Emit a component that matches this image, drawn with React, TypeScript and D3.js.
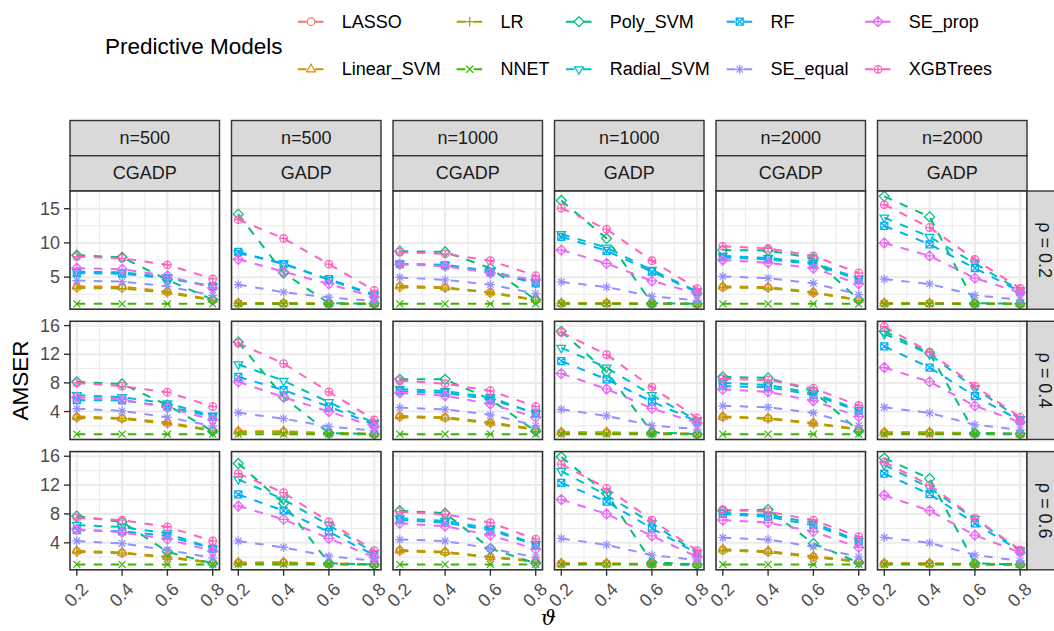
import React from "react";
import * as d3 from "d3";

const models = ["LASSO", "Linear_SVM", "LR", "NNET", "Poly_SVM", "Radial_SVM", "RF", "SE_equal", "SE_prop", "XGBTrees"];
const modelColors = ["#F8766D", "#D89000", "#A3A500", "#39B600", "#00BF7D", "#00BFC4", "#00B0F6", "#9590FF", "#E76BF3", "#FF62BC"];
const thetas = [0.2, 0.4, 0.6, 0.8];
const xTicks = [0.2, 0.4, 0.6, 0.8];
const xMinor = [0.3, 0.5, 0.7];
const sampleSizes = ["n=500", "n=500", "n=1000", "n=1000", "n=2000", "n=2000"];
const designs = ["CGADP", "GADP", "CGADP", "GADP", "CGADP", "GADP"];
const rhoLabels = ["ρ = 0.2", "ρ = 0.4", "ρ = 0.6"];
const yTicksByRow = [[5, 10, 15], [4, 8, 12, 16], [4, 8, 12, 16]];
const yMinorByRow = [[2.5, 7.5, 12.5, 17.5], [2, 6, 10, 14], [2, 6, 10, 14]];

// rho = 0.2
const r1_500_C = [[3.5, 3.45, 2.8, 1.65], [3.65, 3.6, 2.9, 1.7], [3.4, 3.35, 2.7, 1.6], [1.1, 1.1, 1.1, 1.1], [8.2, 7.9, 4.6, 1.7], [5.8, 5.7, 5.0, 3.6], [5.6, 5.5, 4.85, 3.65], [4.5, 4.35, 3.65, 2.35], [6.3, 6.15, 5.2, 3.4], [8.0, 7.75, 6.8, 4.75]];
const r1_500_G = [[1.15, 1.15, 1.1, 1.1], [1.2, 1.2, 1.15, 1.1], [1.15, 1.15, 1.1, 1.1], [1.1, 1.1, 1.1, 1.1], [14.2, 5.6, 1.2, 1.1], [8.5, 7.0, 4.6, 2.35], [8.7, 6.9, 4.7, 2.45], [3.9, 2.8, 2.05, 1.5], [7.6, 5.8, 4.0, 2.1], [13.4, 10.65, 6.9, 3.05]];
const r1_1000_C = [[3.6, 3.45, 2.75, 1.65], [3.75, 3.5, 2.8, 1.7], [3.5, 3.4, 2.7, 1.6], [1.1, 1.1, 1.1, 1.1], [8.8, 8.7, 6.3, 1.7], [6.95, 6.8, 5.9, 4.2], [6.9, 6.7, 5.7, 4.1], [4.95, 4.6, 3.9, 2.6], [6.9, 6.6, 5.6, 4.6], [8.65, 8.4, 7.4, 5.2]];
const r1_1000_G = [[1.15, 1.15, 1.1, 1.1], [1.2, 1.2, 1.15, 1.1], [1.15, 1.15, 1.1, 1.1], [1.1, 1.1, 1.1, 1.1], [16.2, 10.65, 1.2, 1.1], [11.3, 9.3, 6.05, 2.9], [10.9, 8.85, 5.8, 2.8], [4.3, 3.55, 2.2, 1.6], [8.95, 7.0, 4.45, 2.6], [15.1, 12.0, 7.4, 3.3]];
const r1_2000_C = [[3.55, 3.45, 2.75, 1.65], [3.65, 3.55, 2.8, 1.7], [3.5, 3.4, 2.7, 1.6], [1.1, 1.1, 1.1, 1.1], [8.95, 8.9, 7.75, 1.7], [8.1, 7.8, 7.1, 4.8], [7.9, 7.6, 6.9, 4.6], [5.1, 4.85, 4.1, 2.45], [7.5, 7.1, 6.3, 4.0], [9.5, 9.2, 8.1, 5.6]];
const r1_2000_G = [[1.15, 1.15, 1.1, 1.1], [1.2, 1.2, 1.15, 1.1], [1.15, 1.15, 1.1, 1.1], [1.1, 1.1, 1.1, 1.1], [16.8, 13.8, 1.2, 1.1], [13.7, 10.9, 7.0, 3.05], [12.5, 9.8, 6.3, 2.9], [4.7, 4.0, 2.35, 1.7], [10.0, 8.1, 4.85, 2.75], [15.6, 12.25, 7.6, 3.35]];

// rho = 0.4
const r2_500_C = [[3.2, 3.05, 2.4, 1.35], [3.3, 3.1, 2.5, 1.4], [3.1, 3.0, 2.3, 1.3], [0.85, 0.85, 0.85, 0.85], [8.15, 7.85, 4.9, 1.25], [6.3, 6.0, 5.15, 3.4], [5.6, 5.55, 4.7, 3.3], [4.4, 4.1, 3.2, 2.0], [6.0, 5.7, 4.55, 2.85], [8.0, 7.55, 6.7, 4.7]];
const r2_500_G = [[1.15, 1.15, 0.95, 0.9], [1.25, 1.25, 1.0, 0.9], [1.1, 1.1, 0.95, 0.9], [0.85, 0.85, 0.85, 0.85], [13.7, 6.0, 1.0, 0.85], [10.6, 8.3, 5.3, 2.4], [8.85, 7.0, 4.7, 2.15], [3.85, 3.0, 1.9, 1.35], [8.15, 6.0, 4.0, 1.9], [13.55, 10.7, 6.75, 2.85]];
const r2_1000_C = [[3.3, 3.15, 2.45, 1.5], [3.4, 3.2, 2.5, 1.55], [3.2, 3.1, 2.35, 1.45], [0.85, 0.85, 0.85, 0.85], [8.5, 8.5, 5.7, 1.25], [7.15, 6.85, 6.0, 3.7], [6.85, 6.6, 5.7, 3.8], [4.55, 4.3, 3.55, 2.05], [6.6, 6.2, 5.05, 3.2], [8.3, 7.9, 6.9, 4.7]];
const r2_1000_G = [[1.05, 1.05, 0.95, 0.9], [1.1, 1.1, 1.0, 0.9], [1.0, 1.0, 0.95, 0.9], [0.85, 0.85, 0.85, 0.85], [15.2, 9.55, 1.1, 0.85], [12.9, 10.15, 6.3, 2.75], [11.05, 8.5, 5.4, 2.6], [4.3, 3.4, 2.05, 1.55], [9.3, 7.15, 4.45, 2.4], [15.05, 11.95, 7.4, 3.1]];
const r2_2000_C = [[3.25, 3.05, 2.35, 1.5], [3.3, 3.1, 2.4, 1.55], [3.2, 3.0, 2.3, 1.45], [0.85, 0.85, 0.85, 0.85], [8.85, 8.7, 6.85, 1.25], [8.0, 7.7, 6.55, 4.25], [7.55, 7.4, 6.3, 4.1], [4.8, 4.6, 3.8, 2.05], [7.1, 6.75, 5.5, 3.3], [8.6, 8.4, 7.25, 4.85]];
const r2_2000_G = [[1.05, 1.05, 0.95, 0.9], [1.1, 1.1, 1.0, 0.9], [1.0, 1.0, 0.95, 0.9], [0.85, 0.85, 0.85, 0.85], [15.2, 12.15, 1.0, 0.9], [14.85, 12.0, 7.25, 2.95], [13.1, 10.15, 6.15, 2.75], [4.6, 3.8, 2.15, 1.45], [10.15, 8.15, 4.8, 2.5], [15.85, 12.3, 7.55, 3.2]];

// rho = 0.6
const r3_500_C = [[2.8, 2.6, 2.0, 1.25], [2.9, 2.65, 2.05, 1.3], [2.7, 2.55, 1.95, 1.2], [1.0, 1.0, 1.0, 1.0], [7.7, 6.9, 2.75, 1.15], [6.45, 6.2, 5.3, 3.2], [5.75, 5.6, 4.95, 3.2], [4.25, 3.9, 3.0, 1.9], [5.85, 5.45, 4.5, 2.85], [7.45, 7.15, 6.2, 4.25]];
const r3_500_G = [[1.2, 1.25, 1.1, 1.05], [1.25, 1.3, 1.1, 1.05], [1.15, 1.2, 1.05, 1.0], [1.0, 1.0, 1.0, 1.0], [15.0, 9.45, 1.15, 1.0], [12.8, 10.0, 6.45, 2.6], [10.7, 8.45, 5.5, 2.3], [4.25, 3.35, 2.15, 1.5], [9.1, 7.25, 4.6, 2.0], [13.6, 10.95, 6.9, 2.9]];
const r3_1000_C = [[2.9, 2.7, 2.0, 1.45], [3.0, 2.75, 2.05, 1.5], [2.85, 2.65, 1.95, 1.4], [1.0, 1.0, 1.0, 1.0], [8.45, 8.1, 3.2, 1.15], [7.4, 7.05, 6.0, 3.8], [7.15, 6.8, 5.75, 3.7], [4.45, 4.25, 3.2, 2.0], [6.7, 6.3, 5.05, 3.1], [8.3, 7.95, 6.8, 4.5]];
const r3_1000_G = [[1.1, 1.1, 1.05, 1.0], [1.15, 1.15, 1.05, 1.0], [1.1, 1.1, 1.0, 1.0], [1.0, 1.0, 1.0, 1.0], [15.9, 10.85, 1.3, 1.0], [13.95, 10.6, 6.7, 2.6], [12.3, 9.7, 6.0, 2.5], [4.6, 3.7, 2.3, 1.6], [10.0, 8.0, 4.95, 2.05], [14.9, 11.55, 7.15, 2.9]];
const r3_2000_C = [[3.0, 2.75, 2.05, 1.4], [3.1, 2.85, 2.15, 1.45], [2.95, 2.7, 2.0, 1.35], [1.0, 1.0, 1.0, 1.0], [8.45, 8.6, 3.9, 1.25], [8.15, 7.85, 6.8, 4.25], [8.0, 7.6, 6.45, 4.15], [4.7, 4.45, 3.45, 2.05], [7.15, 6.8, 5.55, 3.35], [8.6, 8.3, 7.15, 4.85]];
const r3_2000_G = [[1.1, 1.1, 1.05, 1.0], [1.15, 1.15, 1.05, 1.0], [1.1, 1.1, 1.0, 1.0], [1.0, 1.0, 1.0, 1.0], [15.75, 12.9, 1.15, 1.0], [14.8, 11.6, 7.3, 2.9], [13.6, 10.75, 6.7, 2.85], [4.75, 4.0, 2.3, 1.5], [10.6, 8.45, 5.05, 2.65], [15.2, 12.0, 7.4, 3.0]];

const panelData = [
  [r1_500_C, r1_500_G, r1_1000_C, r1_1000_G, r1_2000_C, r1_2000_G],
  [r2_500_C, r2_500_G, r2_1000_C, r2_1000_G, r2_2000_C, r2_2000_G],
  [r3_500_C, r3_500_G, r3_1000_C, r3_1000_G, r3_2000_C, r3_2000_G],
];

const W = 1054;
const H = 631;
const FONT = "'Liberation Sans', Arial, Helvetica, sans-serif";
const panelLeft = 70;
const colStep = 161.5;
const panelW = 149.5;
const rowTop0 = 191;
const rowStep = 130.3;
const panelH = 118.2;
const stripTop = 120.5;
const stripH = 35.25;
const rightStripW = 35;
const GRID = "#EBEBEB";
const BORDER = "#333333";
const STRIP_FILL = "#D9D9D9";
const DASH = "8.5 8.5";

function markerParts(shape: number, x: number, y: number) {
  const parts: { d?: string; r?: number }[] = [];
  const plus = (r: number) => `M${x - r},${y}H${x + r}M${x},${y - r}V${y + r}`;
  const cross = (r: number) => `M${x - r},${y - r}L${x + r},${y + r}M${x - r},${y + r}L${x + r},${y - r}`;
  const diamond = (r: number) => `M${x},${y - r}L${x + r},${y}L${x},${y + r}L${x - r},${y}Z`;
  switch (shape) {
    case 0:
      parts.push({ r: 3.8 });
      break;
    case 1:
      parts.push({ d: `M${x},${y - 5}L${x + 4.33},${y + 2.5}L${x - 4.33},${y + 2.5}Z` });
      break;
    case 2:
      parts.push({ d: plus(4.8) });
      break;
    case 3:
      parts.push({ d: cross(3.5) });
      break;
    case 4:
      parts.push({ d: diamond(5) });
      break;
    case 5:
      parts.push({ d: `M${x},${y + 5}L${x + 4.33},${y - 2.5}L${x - 4.33},${y - 2.5}Z` });
      break;
    case 6:
      parts.push({ d: `M${x - 3.5},${y - 3.5}H${x + 3.5}V${y + 3.5}H${x - 3.5}Z` + cross(3.5) });
      break;
    case 7:
      parts.push({ d: plus(4.5) + cross(3.2) });
      break;
    case 8:
      parts.push({ d: diamond(5) + plus(5) });
      break;
    default:
      parts.push({ r: 3.8 });
      parts.push({ d: plus(3.8) });
  }
  return parts;
}

function Marker({ shape, x, y, color }: { shape: number; x: number; y: number; color: string }) {
  const parts = markerParts(shape, x, y);
  return (
    <g stroke={color} strokeWidth={1.25} fill="none">
      {parts.map((p, i) =>
        p.r !== undefined ? <circle key={i} cx={x} cy={y} r={p.r} /> : <path key={i} d={p.d} />
      )}
    </g>
  );
}

export default function App() {
  const rowScales = panelData.map((row, ri) => {
    const all = row.flat(2) as number[];
    const mn = d3.min(all) as number;
    const mx = d3.max(all) as number;
    const pad = (mx - mn) * 0.05;
    const top = rowTop0 + ri * rowStep;
    return d3.scaleLinear().domain([mn - pad, mx + pad]).range([top + panelH, top]);
  });

  const legendCols = [298, 456.7, 566, 726.7, 865];
  const legendRows = [21.7, 69.3];

  return (
    <svg
      width={W}
      height={H}
      viewBox={`0 0 ${W} ${H}`}
      style={{ display: "block", position: "absolute", left: 0, top: 0, background: "#fff" }}
      fontFamily={FONT}
    >
      <rect x={0} y={0} width={W} height={H} fill="#fff" />
      {/* legend */}
      <text x={105} y={46} fontSize={22.5} dominantBaseline="central" fill="#000">Predictive Models</text>
      {models.map((m, i) => {
        const cx = legendCols[Math.floor(i / 2)];
        const cy = legendRows[i % 2];
        return (
          <g key={m}>
            <line x1={cx} x2={cx + 26} y1={cy} y2={cy} stroke={modelColors[i]} strokeWidth={2} strokeDasharray={DASH} />
            <Marker shape={i} x={cx + 13} y={cy} color={modelColors[i]} />
            <text x={cx + 43.7} y={cy} fontSize={18} dominantBaseline="central" fill="#000">{m}</text>
          </g>
        );
      })}

      {/* top strips */}
      {sampleSizes.map((s, ci) => {
        const x0 = panelLeft + ci * colStep;
        return (
          <g key={"strip" + ci}>
            <rect x={x0} y={stripTop} width={panelW} height={stripH} fill={STRIP_FILL} stroke={BORDER} strokeWidth={1.4} />
            <text x={x0 + panelW / 2} y={stripTop + stripH / 2} fontSize={18} textAnchor="middle" dominantBaseline="central" fill="#1A1A1A">{s}</text>
            <rect x={x0} y={stripTop + stripH} width={panelW} height={stripH} fill={STRIP_FILL} stroke={BORDER} strokeWidth={1.4} />
            <text x={x0 + panelW / 2} y={stripTop + stripH * 1.5} fontSize={18} textAnchor="middle" dominantBaseline="central" fill="#1A1A1A">{designs[ci]}</text>
          </g>
        );
      })}

      {/* panels */}
      {panelData.map((row, ri) => {
        const y = rowScales[ri];
        const top = rowTop0 + ri * rowStep;
        const [d0, d1] = y.domain();
        const minor = yMinorByRow[ri].filter((v) => v >= d0 && v <= d1);
        const major = yTicksByRow[ri].filter((v) => v >= d0 && v <= d1);
        return (
          <g key={"row" + ri}>
            {row.map((panel, ci) => {
              const x0 = panelLeft + ci * colStep;
              const x = d3.scaleLinear().domain([0.17, 0.83]).range([x0, x0 + panelW]);
              const line = d3
                .line<number>()
                .x((_, i) => x(thetas[i]))
                .y((v) => y(v));
              return (
                <g key={"p" + ci}>
                  <rect x={x0} y={top} width={panelW} height={panelH} fill="#fff" />
                  {minor.map((v) => (
                    <line key={"ym" + v} x1={x0} x2={x0 + panelW} y1={y(v)} y2={y(v)} stroke={GRID} strokeWidth={1} />
                  ))}
                  {xMinor.map((v) => (
                    <line key={"xm" + v} x1={x(v)} x2={x(v)} y1={top} y2={top + panelH} stroke={GRID} strokeWidth={1} />
                  ))}
                  {major.map((v) => (
                    <line key={"yM" + v} x1={x0} x2={x0 + panelW} y1={y(v)} y2={y(v)} stroke={GRID} strokeWidth={2} />
                  ))}
                  {xTicks.map((v) => (
                    <line key={"xM" + v} x1={x(v)} x2={x(v)} y1={top} y2={top + panelH} stroke={GRID} strokeWidth={2} />
                  ))}
                  {panel.map((vals, mi) => (
                    <path key={"l" + mi} d={line(vals) || ""} fill="none" stroke={modelColors[mi]} strokeWidth={2} strokeDasharray={DASH} />
                  ))}
                  {panel.map((vals, mi) =>
                    vals.map((v, ti) => (
                      <Marker key={"m" + mi + "-" + ti} shape={mi} x={x(thetas[ti])} y={y(v)} color={modelColors[mi]} />
                    ))
                  )}
                  <rect x={x0} y={top} width={panelW} height={panelH} fill="none" stroke={BORDER} strokeWidth={1.6} />
                  {ri === 2 &&
                    xTicks.map((v) => (
                      <g key={"xt" + v}>
                        <line x1={x(v)} x2={x(v)} y1={top + panelH} y2={top + panelH + 6} stroke={BORDER} strokeWidth={1.4} />
                        <text
                          transform={`translate(${x(v) - 0.5},595) rotate(-45)`}
                          fontSize={18}
                          textAnchor="middle"
                          dominantBaseline="central"
                          fill="#4D4D4D"
                        >
                          {String(v)}
                        </text>
                      </g>
                    ))}
                </g>
              );
            })}
            {/* y axis */}
            {major.map((v) => (
              <g key={"yt" + v}>
                <line x1={panelLeft - 6} x2={panelLeft} y1={y(v)} y2={y(v)} stroke={BORDER} strokeWidth={1.4} />
                <text x={panelLeft - 10} y={y(v)} fontSize={18} textAnchor="end" dominantBaseline="central" fill="#4D4D4D">{v}</text>
              </g>
            ))}
            {/* right strip */}
            <rect x={panelLeft + 5 * colStep + panelW} y={top} width={rightStripW} height={panelH} fill={STRIP_FILL} stroke={BORDER} strokeWidth={1.4} />
            <text
              transform={`translate(${panelLeft + 5 * colStep + panelW + rightStripW / 2},${top + panelH / 2}) rotate(90)`}
              fontSize={18}
              textAnchor="middle"
              dominantBaseline="central"
              fill="#1A1A1A"
            >
              {rhoLabels[ri]}
            </text>
          </g>
        );
      })}

      {/* axis titles */}
      <text transform={`translate(20,${rowTop0 + (2 * rowStep + panelH) / 2}) rotate(-90)`} fontSize={22.5} textAnchor="middle" dominantBaseline="central" fill="#000">AMSER</text>
      <text x={panelLeft + (5 * colStep + panelW) / 2} y={625} fontSize={21} textAnchor="middle" fontStyle="italic" fontFamily="'DejaVu Serif', serif" fill="#000">ϑ</text>
    </svg>
  );
}
